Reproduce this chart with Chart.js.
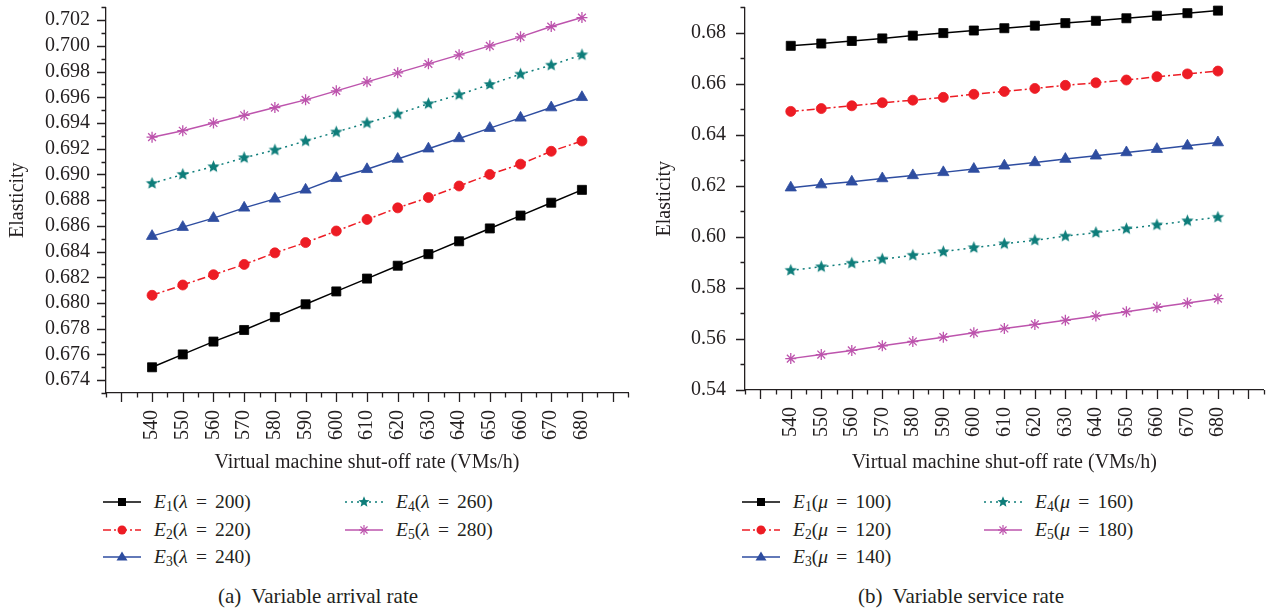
<!DOCTYPE html>
<html>
<head>
<meta charset="utf-8">
<script src="https://cdn.jsdelivr.net/npm/chart.js@4/dist/chart.umd.min.js"></script>
<style>
  body { margin: 0; width: 1271px; height: 610px; background: #fff; position: relative; overflow: hidden;
         font-family: "Liberation Serif", "DejaVu Serif", serif; color: #231f20; }
  .box { position: absolute; top: 0; height: 480px; }
  .item { position: absolute; display: flex; align-items: center; height: 20px; font-size: 19.5px; white-space: nowrap; }
  .item svg { display: block; margin-right: 13px; }
  .item sub { font-size: 0.7em; vertical-align: -0.25em; line-height: 0; }
  .item .eq { margin: 0 0.42em; }
  .cap { position: absolute; font-size: 21px; white-space: nowrap; transform: translate(-50%, -50%); }
</style>
</head>
<body>
<div class="box" style="left:0; width:640px"><canvas id="chartA"></canvas></div>
<div class="box" style="left:640px; width:631px"><canvas id="chartB"></canvas></div>
<div id="legendA"></div>
<div id="legendB"></div>
<div class="cap" style="left:318px; top:596px">(a)&nbsp; Variable arrival rate</div>
<div class="cap" style="left:961px; top:596px">(b)&nbsp; Variable service rate</div>
<script>
// shut-off rate (VMs/h)
const rates = [540, 550, 560, 570, 580, 590, 600, 610, 620, 630, 640, 650, 660, 670, 680];

// (a) variable arrival rate, lambda = 200..280
const arrivalParams = [200, 220, 240, 260, 280];
const arrE1 = [0.6750, 0.6760, 0.6770, 0.6779, 0.6789, 0.6799, 0.6809, 0.6819, 0.6829, 0.6838, 0.6848, 0.6858, 0.6868, 0.6878, 0.6888];
const arrE2 = [0.6806, 0.6814, 0.6822, 0.6830, 0.6839, 0.6847, 0.6856, 0.6865, 0.6874, 0.6882, 0.6891, 0.6900, 0.6908, 0.6918, 0.6926];
const arrE3 = [0.6852, 0.6859, 0.6866, 0.6874, 0.6881, 0.6888, 0.6897, 0.6904, 0.6912, 0.6920, 0.6928, 0.6936, 0.6944, 0.6952, 0.6960];
const arrE4 = [0.6893, 0.6900, 0.6906, 0.6913, 0.6919, 0.6926, 0.6933, 0.6940, 0.6947, 0.6955, 0.6962, 0.6970, 0.6978, 0.6985, 0.6993];
const arrE5 = [0.6929, 0.6934, 0.6940, 0.6946, 0.6952, 0.6958, 0.6965, 0.6972, 0.6979, 0.6986, 0.6993, 0.7000, 0.7007, 0.7015, 0.7022];

// (b) variable service rate, mu = 100..180
const serviceParams = [100, 120, 140, 160, 180];
const srvE1 = [0.6749, 0.6758, 0.6768, 0.6778, 0.6789, 0.6799, 0.6809, 0.6818, 0.6828, 0.6838, 0.6847, 0.6857, 0.6867, 0.6877, 0.6887];
const srvE2 = [0.6492, 0.6503, 0.6514, 0.6526, 0.6536, 0.6547, 0.6559, 0.6570, 0.6582, 0.6594, 0.6604, 0.6615, 0.6628, 0.6639, 0.6650];
const srvE3 = [0.6193, 0.6205, 0.6216, 0.6229, 0.6241, 0.6253, 0.6266, 0.6279, 0.6292, 0.6305, 0.6318, 0.6331, 0.6344, 0.6357, 0.6370];
const srvE4 = [0.5869, 0.5883, 0.5897, 0.5913, 0.5928, 0.5942, 0.5958, 0.5973, 0.5987, 0.6003, 0.6017, 0.6032, 0.6047, 0.6063, 0.6077];
const srvE5 = [0.5523, 0.5539, 0.5555, 0.5573, 0.5590, 0.5607, 0.5624, 0.5641, 0.5657, 0.5673, 0.5690, 0.5707, 0.5724, 0.5741, 0.5758];

const xTickLabels = [540, 550, 560, 570, 580, 590, 600, 610, 620, 630, 640, 650, 660, 670, 680];

const TEXT = '#231f20';
const colors = ['#000000', '#ed1c24', '#2e4da0', '#0e7d7a', '#bd54ad'];
const dashes = [[], [8, 3, 2, 3], [], [2, 4], []];

Chart.defaults.font.family = '"Liberation Serif", "DejaVu Serif", serif';
Chart.defaults.font.size = 20;
Chart.defaults.color = TEXT;

function starImage(color, R) {
  const c = document.createElement('canvas');
  const s = Math.ceil(R * 2 + 2);
  c.width = c.height = s;
  const g = c.getContext('2d');
  g.fillStyle = color;
  g.beginPath();
  for (let i = 0; i < 10; i++) {
    const r = i % 2 ? R * 0.45 : R;
    const a = -Math.PI / 2 + i * Math.PI / 5;
    g.lineTo(s / 2 + r * Math.cos(a), s / 2 + r * Math.sin(a));
  }
  g.closePath();
  g.fill();
  return c;
}

const pointStyles = ['rect', 'circle', 'triangle', starImage(colors[3], 6.5), 'star'];
const pointRadii = [6.4, 5, 6.5, 6.5, 5.5];

// major / minor tick marks on both axes
const tickMarks = {
  id: 'tickMarks',
  afterDraw(chart, args, opts) {
    const ctx = chart.ctx;
    ctx.save();
    ctx.strokeStyle = TEXT;
    ctx.lineWidth = 1.3;
    ctx.beginPath();
    const xs = chart.scales.x, ys = chart.scales.y;
    xs.ticks.forEach(t => {
      const q = t.value / opts.xMajor;
      const len = Math.abs(q - Math.round(q)) < 1e-6 ? 9 : 4.5;
      const px = Math.round(xs.getPixelForValue(t.value)) + 0.5;
      ctx.moveTo(px, xs.top);
      ctx.lineTo(px, xs.top + len);
    });
    ys.ticks.forEach(t => {
      const q = t.value / opts.yMajor;
      const len = Math.abs(q - Math.round(q)) < 1e-6 ? 9 : 4.5;
      const py = Math.round(ys.getPixelForValue(t.value)) + 0.5;
      ctx.moveTo(ys.right - len, py);
      ctx.lineTo(ys.right, py);
    });
    ctx.stroke();
    ctx.restore();
  }
};

function makeChart(id, series, cfg) {
  const datasets = series.map((vals, i) => ({
    label: 'E' + (i + 1),
    data: vals.map((v, j) => ({ x: rates[j], y: v })),
    borderColor: colors[i],
    backgroundColor: colors[i],
    borderWidth: 1.5,
    borderDash: dashes[i],
    pointStyle: pointStyles[i],
    pointRadius: pointRadii[i],
    pointBorderWidth: i === 4 ? 1.3 : 0.8,
    pointBorderColor: colors[i],
    pointBackgroundColor: colors[i],
    tension: 0,
    clip: false
  }));
  return new Chart(document.getElementById(id), {
    type: 'line',
    data: { datasets },
    plugins: [tickMarks],
    options: {
      responsive: true,
      maintainAspectRatio: false,
      animation: false,
      layout: { padding: cfg.padding },
      plugins: {
        legend: { display: false },
        tooltip: { enabled: false },
        tickMarks: { xMajor: 10, yMajor: cfg.yMajor }
      },
      scales: {
        x: {
          type: 'linear',
          min: 525,
          max: 695,
          border: { display: true, color: TEXT, width: 1.3 },
          grid: { display: true, drawOnChartArea: false, drawTicks: true, tickLength: 9, tickColor: 'rgba(0,0,0,0)' },
          ticks: {
            stepSize: 5,
            autoSkip: false,
            minRotation: 90,
            maxRotation: 90,
            padding: 8,
            callback: v => xTickLabels.includes(v) ? String(v) : ''
          },
          title: { display: true, text: 'Virtual machine shut-off rate (VMs/h)', padding: { top: 0, bottom: 5 } },
          afterFit: s => { s.height = cfg.xHeight; s.paddingLeft = 0; s.paddingRight = 0; }
        },
        y: {
          min: cfg.yMin,
          max: cfg.yMax,
          border: { display: true, color: TEXT, width: 1.3 },
          grid: { display: true, drawOnChartArea: false, drawTicks: true, tickLength: 9, tickColor: 'rgba(0,0,0,0)' },
          ticks: {
            stepSize: cfg.yStep,
            autoSkip: false,
            padding: cfg.yPad,
            callback: cfg.yLabel
          },
          title: { display: true, text: 'Elasticity', padding: { top: cfg.titlePad, bottom: 0 } },
          afterFit: s => { s.width = cfg.yWidth; s.paddingTop = 0; s.paddingBottom = 0; }
        }
      }
    }
  });
}

makeChart('chartA', [arrE1, arrE2, arrE3, arrE4, arrE5], {
  padding: { top: 5, right: 12, left: 0, bottom: 0 },
  yMin: 0.673, yMax: 0.703, yStep: 0.001, yMajor: 0.002,
  yWidth: 106, xHeight: 87, yPad: 7, titlePad: 5.5,
  yLabel: v => { const k = Math.round(v * 1000); return (k % 2 === 0 && k >= 674 && k <= 702) ? (k / 1000).toFixed(3) : ''; }
});

makeChart('chartB', [srvE1, srvE2, srvE3, srvE4, srvE5], {
  padding: { top: 1, right: 5, left: 0, bottom: 0 },
  yMin: 0.54, yMax: 0.69, yStep: 0.01, yMajor: 0.02,
  yWidth: 105, xHeight: 90, yPad: 10, titlePad: 13,
  yLabel: v => { const k = Math.round(v * 100); return (k % 2 === 0 && k >= 54 && k <= 68) ? (k / 100).toFixed(2) : ''; }
});

// HTML legends (mixed italic / subscript text)
function markerSvg(i) {
  const c = colors[i], cx = 19, cy = 10;
  if (i === 0) return `<rect x="${cx - 4}" y="${cy - 4}" width="8" height="8" fill="${c}"/>`;
  if (i === 1) return `<circle cx="${cx}" cy="${cy}" r="4.5" fill="${c}"/>`;
  if (i === 2) return `<polygon points="${cx},${cy - 5.5} ${cx + 5.5},${cy + 3.5} ${cx - 5.5},${cy + 3.5}" fill="${c}"/>`;
  if (i === 3) {
    const pts = [];
    for (let k = 0; k < 10; k++) {
      const r = k % 2 ? 2.6 : 5.8, a = -Math.PI / 2 + k * Math.PI / 5;
      pts.push((cx + r * Math.cos(a)).toFixed(2) + ',' + (cy + r * Math.sin(a)).toFixed(2));
    }
    return `<polygon points="${pts.join(' ')}" fill="${c}"/>`;
  }
  let s = '';
  for (let k = 0; k < 4; k++) {
    const a = k * Math.PI / 4, dx = 5 * Math.sin(a), dy = 5 * Math.cos(a);
    s += `<line x1="${cx - dx}" y1="${cy - dy}" x2="${cx + dx}" y2="${cy + dy}" stroke="${c}" stroke-width="1.2"/>`;
  }
  return s;
}

function buildLegend(id, left, top, symbol, params) {
  const el = document.getElementById(id);
  params.forEach((p, i) => {
    const col = i < 3 ? 0 : 1, row = i < 3 ? i : i - 3;
    const d = document.createElement('div');
    d.className = 'item';
    d.style.left = (left + col * 242) + 'px';
    d.style.top = (top + row * 27.5) + 'px';
    const dash = dashes[i].length ? `stroke-dasharray="${dashes[i].join(' ')}"` : '';
    d.innerHTML = `<svg width="38" height="20"><line x1="0" y1="10" x2="38" y2="10" stroke="${colors[i]}" stroke-width="1.5" ${dash}/>${markerSvg(i)}</svg>` +
      `<span><i>E</i><sub>${i + 1}</sub>(<i>${symbol}</i><span class="eq">=</span>${p})</span>`;
    el.appendChild(d);
  });
}

buildLegend('legendA', 103, 492, 'λ', arrivalParams);
buildLegend('legendB', 742, 492, 'μ', serviceParams);
</script>
</body>
</html>
